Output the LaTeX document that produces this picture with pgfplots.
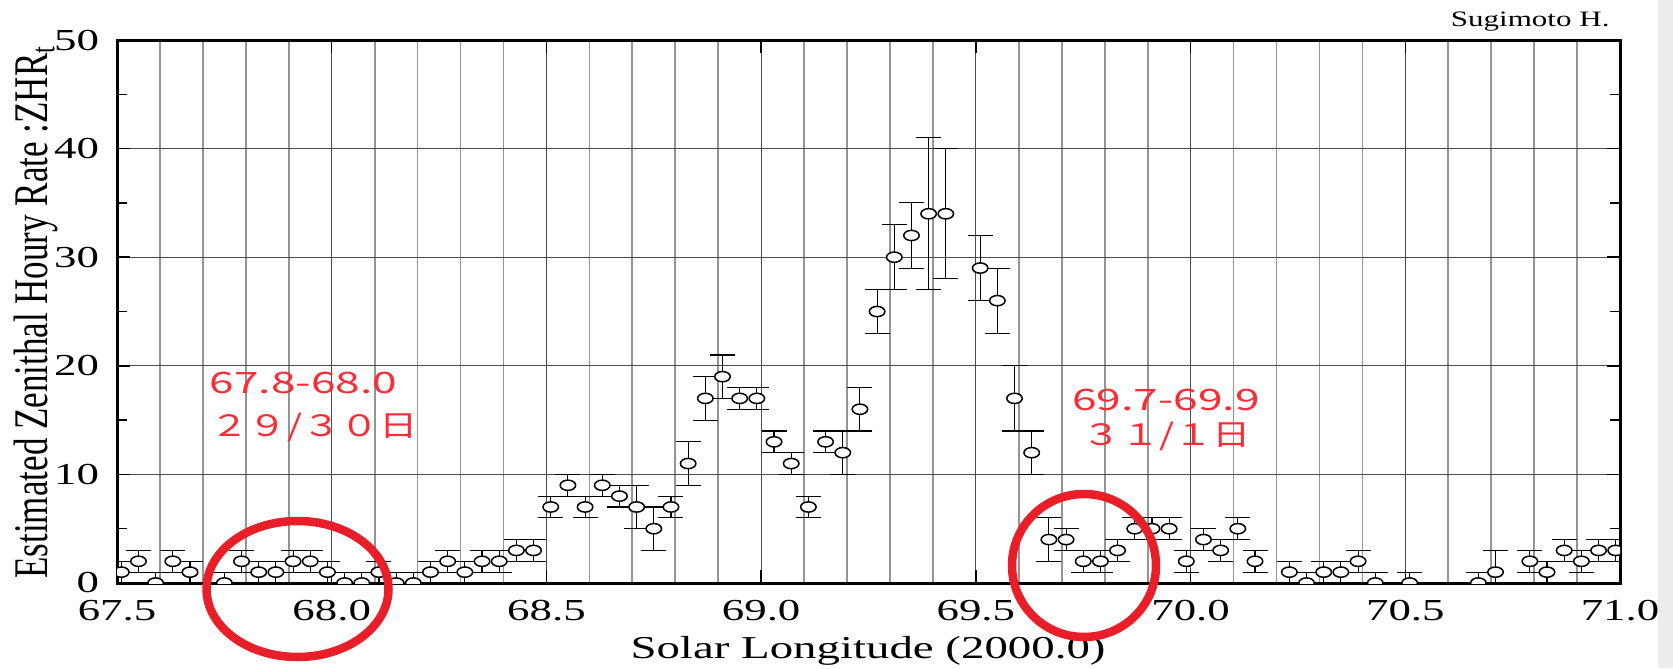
\documentclass[border=0pt]{standalone}
\usepackage{fontspec}
\setmainfont{Liberation Serif}
\newfontfamily\cjk{Noto Sans CJK JP}
\usepackage{graphicx}
\usepackage{pgfplots}
\pgfplotsset{compat=1.18}
\usepackage{pgfplotstable}
\definecolor{annot}{RGB}{250,45,55}
\definecolor{ring}{RGB}{232,30,40}

\pgfdeclareplotmark{ell}{%
  \pgfpathellipse{\pgfpointorigin}{\pgfqpoint{3.1pt}{0pt}}{\pgfqpoint{0pt}{2.05pt}}%
  \pgfusepathqfillstroke}

\pgfplotstableread{
x y ep em
67.51 1 1 1
67.55 2 1 1
67.59 0 1 1
67.63 2 1 1
67.67 1 1 1
67.75 0 1 1
67.79 2 1 1
67.83 1 1 1
67.87 1 1 1
67.91 2 1 1
67.95 2 1 1
67.99 1 1 1
68.03 0 1 1
68.07 0 1 1
68.11 1 1 1
68.15 0 1 1
68.19 0 1 1
68.23 1 1 1
68.27 2 1 1
68.31 1 1 1
68.35 2 1 1
68.39 2 1 1
68.43 3 1 1
68.47 3 1 1
68.51 7 1 1
68.55 9 1 1
68.59 7 1 1
68.63 9 1 1
68.67 8 1 1
68.71 7 2 2
68.75 5 2 2
68.79 7 1 1
68.83 11 2 2
68.87 17 2 2
68.91 19 2 2
68.95 17 1 1
68.99 17 1 1
69.03 13 1 1
69.07 11 1 1
69.11 7 1 1
69.15 13 1 1
69.19 12 2 2
69.23 16 2 2
69.27 25 2 2
69.31 30 3 3
69.35 32 3 3
69.39 34 7 7
69.43 34 6 6
69.51 29 3 3
69.55 26 3 3
69.59 17 3 3
69.63 12 2 2
69.67 4 2 2
69.71 4 1 1
69.75 2 1 1
69.79 2 1 1
69.83 3 1 1
69.87 5 1 1
69.91 5 1 1
69.95 5 1 1
69.99 2 1 1
70.03 4 1 1
70.07 3 1 1
70.11 5 1 1
70.15 2 1 1
70.23 1 1 1
70.27 0 1 1
70.31 1 1 1
70.35 1 1 1
70.39 2 1 1
70.43 0 1 1
70.51 0 1 1
70.67 0 1 1
70.71 1 2 1
70.79 2 1 1
70.83 1 1 1
70.87 3 1 1
70.91 2 1 1
70.95 3 1 1
70.99 3 1 1
}\datatable

\newcommand{\tk}[1]{\scalebox{1.47}[1]{#1}}

\begin{document}
\begin{tikzpicture}[x=0.4pt,y=0.4pt]
\path[use as bounding box] (0,0) rectangle (1673,668);
\fill[black!7] (1658,0) rectangle (1673,668);
\begin{axis}[
  at={(46.8pt,34pt)}, anchor=south west,
  scale only axis, width=601.2pt, height=217.2pt,
  xmin=67.5, xmax=71, ymin=0, ymax=50,
  xtick={67.5,68.0,68.5,69.0,69.5,70.0,70.5,71.0},
  xticklabels={\tk{67.5},\tk{68.0},\tk{68.5},\tk{69.0},\tk{69.5},\tk{70.0},\tk{70.5},\tk{71.0}},
  minor x tick num=4,
  ytick={0,10,20,30,40,50},
  yticklabels={\tk{0},\tk{10},\tk{20},\tk{30},\tk{40},\tk{50}},
  minor y tick num=1,
  xmajorgrids, xminorgrids, ymajorgrids,
  major grid style={black!70, line width=0.45pt},
  minor grid style={black!42, line width=0.7pt},
  tick align=inside,
  major tick length=5.2pt, minor tick length=4pt,
  tick style={black, line width=0.6pt},
  minor x tick style={draw=none},
  axis line style={black, line width=1.2pt},
  ticklabel style={font=\fontsize{12.2}{13}\selectfont},
  xticklabel style={anchor=base, inner sep=0pt, yshift=-14.8pt},
  yticklabel style={anchor=east, inner sep=0pt, xshift=-7pt},
  clip marker paths=true,
]
% error bars first
\addplot[only marks, mark=none, forget plot,
  error bars/.cd, y dir=both, y explicit,
  error bar style={draw=black, line width=0.45pt},
  error mark options={rotate=90, draw=black, mark size=5pt, line width=0.45pt}]
  table[x=x, y=y, y error plus=ep, y error minus=em] {\datatable};
% markers on top
\addplot[only marks, mark=ell,
  mark options={fill=white, draw=black, line width=0.6pt}]
  table[x=x, y=y] {\datatable};
\end{axis}
% axis labels
\node[rotate=90, anchor=base, inner sep=0pt] at (47,356)
  {\scalebox{1}[1.38]{\fontsize{14}{16}\selectfont Estimated Zenithal Houry Rate :ZHR\textsubscript{t}}};
\node[anchor=base, inner sep=0pt] at (868,10)
  {\scalebox{1.47}[1]{\fontsize{12.75}{14}\selectfont Solar Longitude (2000.0)}};
\node[anchor=base east, inner sep=0pt] at (1610,641)
  {\scalebox{1.41}[1]{\fontsize{8.8}{10}\selectfont Sugimoto H.}};
% annotations
\node[anchor=base, inner sep=0pt, text=annot] at (303.5,275)
  {\scalebox{1.5}[1]{\cjk\fontsize{11.8}{13}\selectfont 67.8-68.0}};
\node[anchor=base, inner sep=0pt, text=annot] at (314,232)
  {\scalebox{1.3}[1]{\cjk\fontsize{11.8}{13}\selectfont ２９/３０日}};
\node[anchor=base, inner sep=0pt, text=annot] at (1166,258)
  {\scalebox{1.5}[1]{\cjk\fontsize{11.8}{13}\selectfont 69.7-69.9}};
\node[anchor=base, inner sep=0pt, text=annot] at (1167,223)
  {\scalebox{1.3}[1]{\cjk\fontsize{11.8}{13}\selectfont ３１/１日}};
% red rings
\draw[ring, line width=3.4pt] (297.5,79) ellipse [x radius=36.4pt, y radius=27.2pt];
\draw[ring, line width=3.4pt] (1084,102.5) ellipse [x radius=28.8pt, y radius=28.6pt];
\end{tikzpicture}
\end{document}
